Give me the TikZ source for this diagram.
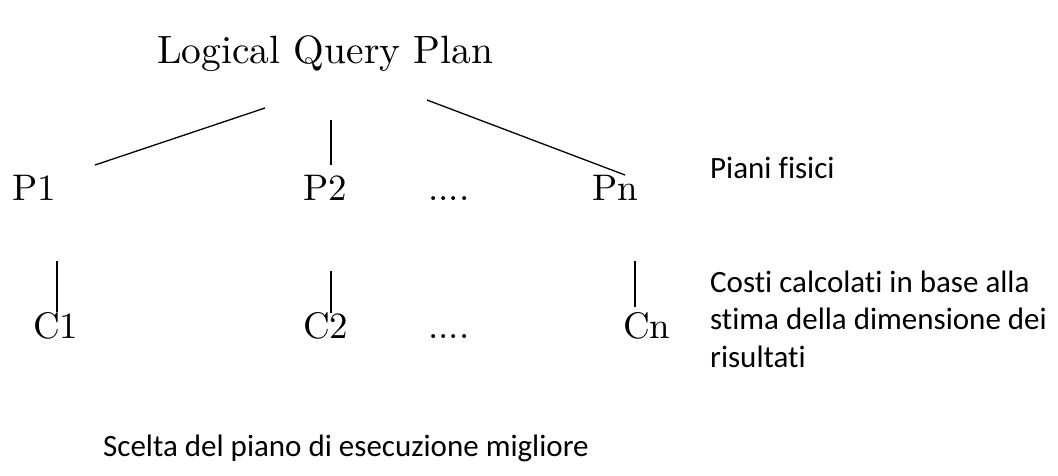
\documentclass[tikz,border=0pt]{standalone}
\usepackage{fontspec}
\newfontfamily\calibri{Carlito}[Ligatures=NoCommon]
\newfontfamily\lmten{lmroman10-regular.otf}
\usetikzlibrary{calc}

\begin{document}
\begin{tikzpicture}[x=1pt, y=-1pt,
  lbl/.style={anchor=base west, inner sep=0pt, font=\lmten\fontsize{37}{44}\selectfont},
  note/.style={anchor=base west, inner sep=0pt, align=left, font=\calibri\fontsize{31}{37.5}\selectfont},
  branch/.style={black, line width=1.3pt},
  stem/.style={black, line width=1.1pt}]
  \useasboundingbox (0,0) rectangle (1058,475);
  \node[anchor=base west, inner sep=0pt, font=\lmten\fontsize{39.5}{46}\selectfont] (lqp) at (157,63) {Logical Query Plan};
  \node[lbl] (p1) at (12,200) {P1};
  \node[lbl] (p2) at (303,200) {P2};
  \node[lbl] (pdots) at (428,200) {....};
  \node[lbl] (pn) at (592,200) {Pn};
  \node[lbl] (c1) at (33,338) {C1};
  \node[lbl] (c2) at (303,338) {C2};
  \node[lbl] (cdots) at (428,338) {....};
  \node[lbl] (cn) at (623,338) {Cn};
  \node[note] (fisici) at (710,178) {Piani fisici};
  \node[note] (costi) at (710,367) {Costi calcolati in base alla\\stima della dimensione dei\\risultati};
  \node[note] (scelta) at (103,456) {Scelta del piano di esecuzione migliore};
  % rami del piano logico
  \coordinate (t1) at (265,108);
  \coordinate (e1) at (95,165);
  \coordinate (t2) at (331,120);
  \coordinate (e2) at (331,165);
  \coordinate (t3) at (427,100);
  \coordinate (e3) at (625,175);
  \draw[branch] (t1) -- (e1);
  \draw[stem] (t2) -- (e2);
  \draw[branch] (t3) -- (e3);
  % costi
  \coordinate (s1) at (57,261);
  \coordinate (f1) at (57,312);
  \coordinate (s2) at (331,271);
  \coordinate (f2) at (331,313);
  \coordinate (sn) at (635,261);
  \coordinate (fn) at (635,307);
  \draw[stem] (s1) -- (f1);
  \draw[stem] (s2) -- (f2);
  \draw[stem] (sn) -- (fn);
\end{tikzpicture}
\end{document}
